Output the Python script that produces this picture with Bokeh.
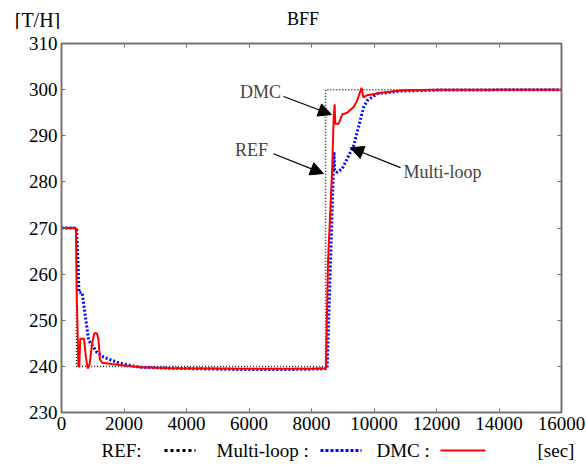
from bokeh.plotting import figure
from bokeh.layouts import column
from bokeh.models import Range1d, FixedTicker, LinearAxis, Label, Arrow, NormalHead
from bokeh.core.properties import value
from bokeh.embed import file_html
from bokeh.resources import INLINE

# ---- data ----
ref_t = [0, 480, 480, 8450, 8450, 16000]
ref_v = [270, 270, 240, 240, 300, 300]

ml_t = [0, 480, 530, 560, 660, 700, 870, 1030, 1140, 1350, 1780, 2200, 2530, 3500, 5000,
        6000, 7000, 8000, 8500, 8610, 8700, 8720, 8740, 8820, 8980, 9350, 9670, 9780,
        10100, 10850, 12000, 14000, 16000]
ml_v = [270, 270, 262, 256, 256, 254, 245.6, 244.1, 243, 242, 240.9, 240.2, 239.8, 239.6, 239.4,
        239.3, 239.3, 239.4, 239.5, 263, 282.5, 286.5, 282.5, 282.1, 282.8, 287.9, 296.2, 297.6,
        299.1, 299.7, 299.9, 299.95, 300]

dmc_t = [0, 460, 490, 540, 570, 600, 720, 780, 840, 900, 980, 1050, 1130, 1180, 1230, 1300,
         1600, 2000, 2500, 3500, 6000, 8000, 8460, 8530, 8660, 8710, 8740, 8760, 8870, 8980,
         9140, 9340, 9460, 9600, 9660, 9780, 10300, 10850, 12000, 16000]
dmc_v = [270, 270, 255, 240, 240, 246, 246, 242, 239.5, 240.5, 245, 247.2, 247.2, 246, 241.5, 240.8,
         240.5, 240.2, 239.8, 239.6, 239.5, 239.5, 239.6, 263, 282.5, 294, 296.8, 292.6, 292.6, 294.6,
         295, 296.2, 297.6, 300.4, 298.3, 298.8, 299.4, 299.8, 300, 300]

x_ticks = [0, 2000, 4000, 6000, 8000, 10000, 12000, 14000, 16000]
y_ticks = [230, 240, 250, 260, 270, 280, 290, 300, 310]

title_text = "BFF"
unit_text = "[T/H]"
legend_labels = ["REF:", "Multi-loop :", "DMC :"]
x_unit_text = "[sec]"

FONT = "'Liberation Serif'"
GRAY = "#6e6e6e"
W = 586


def blank_fig(h):
    f = figure(width=W, height=h, output_backend="svg", toolbar_location=None,
               x_range=Range1d(0, W), y_range=Range1d(h, 0),
               x_axis_type=None, y_axis_type=None, frame_align=False,
               min_border_left=0, min_border_right=0, min_border_top=0, min_border_bottom=0)
    f.grid.visible = False
    f.outline_line_color = None
    return f


# ---- header (titles) ----
head = blank_fig(29)
head.text(x=[37], y=[19], text=[unit_text], text_align="center", text_baseline="middle",
          text_font=value(FONT), text_font_size="20px")
head.text(x=[302.5], y=[18], text=[title_text], text_align="center", text_baseline="middle",
          text_font=value(FONT), text_font_size="18px")

# ---- main plot ----
p = figure(width=W, height=411, output_backend="svg", toolbar_location=None,
           x_range=Range1d(0, 16000), y_range=Range1d(230, 310), frame_align=False,
           min_border_left=61, min_border_right=25, min_border_top=14, min_border_bottom=28)
p.grid.visible = False
p.outline_line_color = GRAY
p.outline_line_width = 1.5

for ax in (p.xaxis[0], p.yaxis[0]):
    ax.major_tick_in = 4
    ax.major_tick_out = 0
    ax.minor_tick_line_color = None
    ax.axis_line_color = GRAY
    ax.axis_line_width = 1.5
    ax.major_tick_line_color = GRAY
    ax.major_label_text_font = FONT
    ax.major_label_text_font_size = "19px"
    ax.major_label_text_color = "black"
    ax.major_label_standoff = 4
p.xaxis[0].ticker = FixedTicker(ticks=x_ticks)
p.yaxis[0].ticker = FixedTicker(ticks=y_ticks)

top = LinearAxis(ticker=FixedTicker(ticks=x_ticks), major_tick_in=4, major_tick_out=0,
                 minor_tick_line_color=None, axis_line_color=GRAY, axis_line_width=1.5,
                 major_tick_line_color=GRAY, major_label_text_font_size="1px",
                 major_label_text_color=None, major_label_standoff=0)
right = LinearAxis(ticker=FixedTicker(ticks=y_ticks), major_tick_in=4, major_tick_out=0,
                   minor_tick_line_color=None, axis_line_color=GRAY, axis_line_width=1.5,
                   major_tick_line_color=GRAY, major_label_text_font_size="1px",
                   major_label_text_color=None, major_label_standoff=0)
p.add_layout(top, "above")
p.add_layout(right, "right")

p.line(ref_t, ref_v, line_color="#222222", line_width=1.5, line_dash="1 2")
p.line(ml_t, ml_v, line_color="#0000ff", line_width=3, line_dash="2 2")
p.line(dmc_t, dmc_v, line_color="#ff0000", line_width=2)


def annot(text, tx, ty, align, x0, y0, x1, y1):
    p.add_layout(Label(x=tx, y=ty, text=text, text_align=align, text_baseline="middle",
                       text_font=FONT, text_font_size="18px"))
    p.add_layout(Arrow(x_start=x0, y_start=y0, x_end=x1, y_end=y1, line_width=1.2,
                       end=NormalHead(size=13, fill_color="black", line_color="black")))


annot("DMC", 6368, 299.4, "center", 7104, 298.5, 8640, 294.6)
annot("REF", 6080, 287.0, "center", 6784, 286.1, 8384, 281.8)
annot("Multi-loop", 10944, 282.2, "left", 10848, 283.1, 9248, 287.4)

# ---- footer (legend row) ----
foot = blank_fig(22)
LY = 10
foot.text(x=[101, 216, 376, 537], y=[LY] * 4,
          text=legend_labels + [x_unit_text], text_align="left", text_baseline="middle",
          text_font=value(FONT), text_font_size="19px")
foot.line([164, 195], [LY, LY], line_color="black", line_width=3, line_dash="3 3")
foot.line([320, 361], [LY, LY], line_color="#0000ff", line_width=3, line_dash="3 2")
foot.line([440, 485], [LY, LY], line_color="#ff0000", line_width=2)

layout = column(head, p, foot, spacing=0)
open("out.html", "w").write(file_html(layout, INLINE))
